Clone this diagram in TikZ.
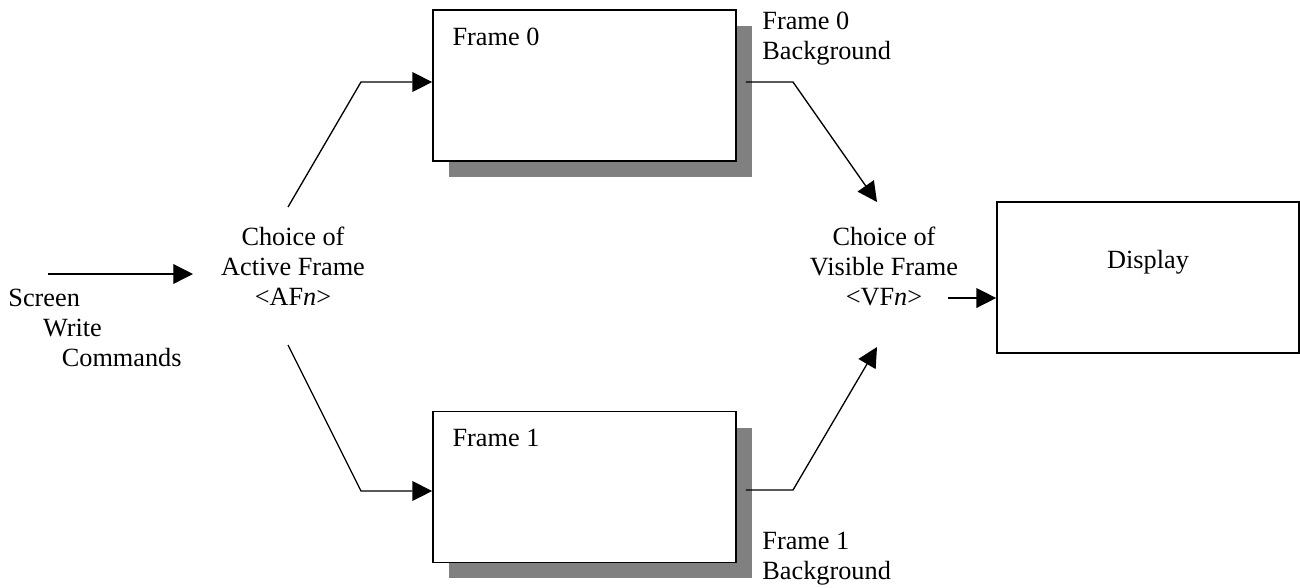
\documentclass[tikz,border=0pt]{standalone}
\usepackage{fontspec}
\setmainfont{Liberation Serif}
\usetikzlibrary{arrows.meta,shadows}

\begin{document}
\begin{tikzpicture}[
  x=0.4566pt, y=-0.4566pt,
  every node/.style={font=\fontsize{12}{13.7}\selectfont},
  framebox/.style={draw, line width=0.75pt, fill=white,
    minimum width=138.4pt, minimum height=68.9pt, inner sep=0pt},
  shadowed/.style={drop shadow={shadow xshift=7.3pt, shadow yshift=-7.3pt,
    fill=black!50, opacity=1}},
  txt/.style={inner sep=0pt},
  line/.style={line width=0.6pt},
  arr/.style={line, -{Triangle[length=9pt,width=9pt]}}
]
  % --- Page size ---
  \useasboundingbox (0,0) rectangle (1300,587);

  % --- Frames and display ---
  \node[framebox, shadowed] (f0) at (584.5,85.5) {};
  \node[framebox, shadowed] (f1) at (584.5,487) {};
  \node[framebox, minimum width=137.9pt] (disp) at (1148,277.5) {};

  % --- Labels ---
  \node[txt, anchor=base west] (f0lbl) at ([shift={(20,36)}]f0.north west) {Frame 0};
  \node[txt, anchor=base west] (f1lbl) at ([shift={(20,36)}]f1.north west) {Frame 1};
  \node[txt, anchor=north west, align=left] (bg0) at (762,12) {Frame 0\\Background};
  \node[txt, anchor=north west, align=left] (bg1) at (762,532) {Frame 1\\Background};
  \node[txt, anchor=north, align=center] (chA) at (293,227)
    {Choice of\\Active Frame\\\textless AF\textit{n}\textgreater};
  \node[txt, anchor=north, align=center] (chV) at (884,227)
    {Choice of\\Visible Frame\\\textless VF\textit{n}\textgreater};
  \node[txt, anchor=north west, align=left] (cmd) at (8,289)
    {Screen\\\hspace{15.8pt}Write\\\hspace{24.4pt}Commands};
  \node[txt, anchor=north] (displbl) at (1148,250) {Display};

  % --- Bend points and free ends ---
  \coordinate (cmdIn) at (48,274);
  \coordinate (chAIn) at (193,274);
  \coordinate (aTop) at (288,207);
  \coordinate (aBot) at (288,345);
  \coordinate (a0) at (361,82);
  \coordinate (a1) at (361,491);
  \coordinate (b0) at (793,82);
  \coordinate (b1) at (793,490);
  \coordinate (vTop) at (877,202);
  \coordinate (vBot) at (877,347);
  \coordinate (vOut) at (948,298);

  % --- Connectors ---
  \draw[arr] (cmdIn) -- (chAIn);
  \draw[arr] (aTop) -- (a0) -- (a0 -| f0.west);
  \draw[arr] (aBot) -- (a1) -- (a1 -| f1.west);
  \draw[arr, shorten <=4.1pt] (b0 -| f0.east) -- (b0) -- (vTop);
  \draw[arr, shorten <=4.1pt] (b1 -| f1.east) -- (b1) -- (vBot);
  \draw[arr] (vOut) -- (vOut -| disp.west);
\end{tikzpicture}
\end{document}
